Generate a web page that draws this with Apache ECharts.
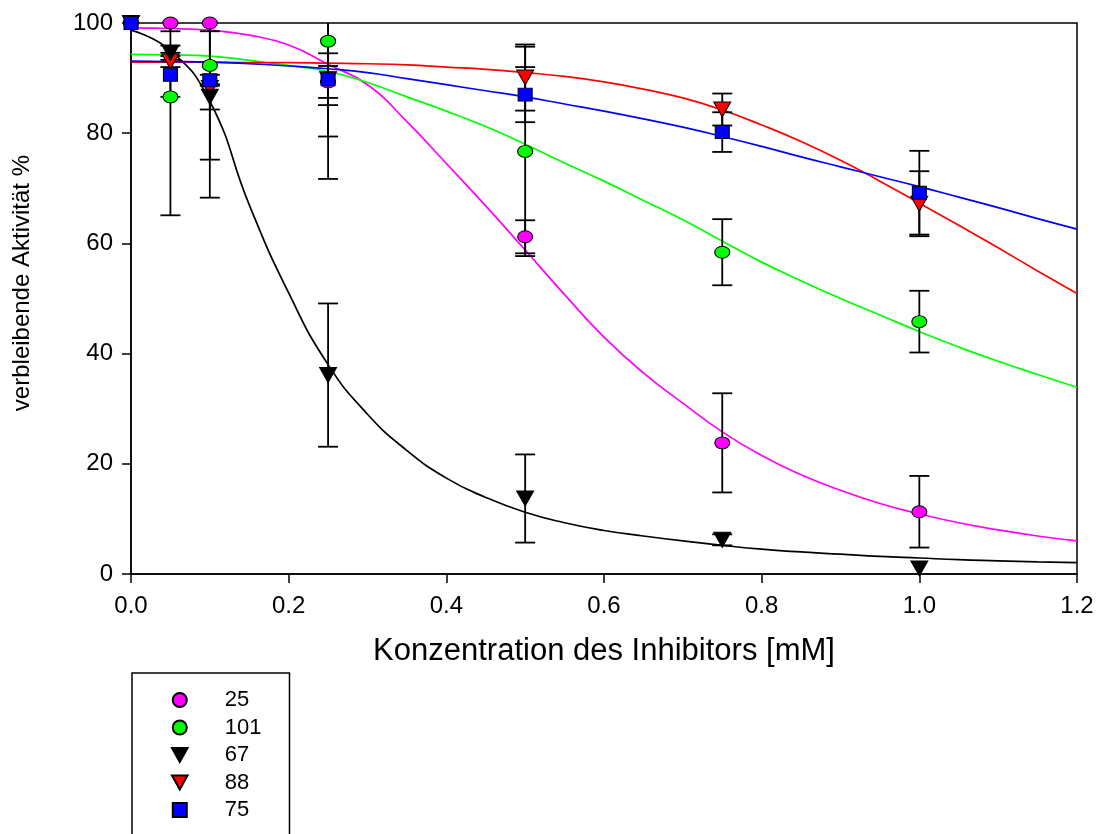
<!DOCTYPE html>
<html>
<head>
<meta charset="utf-8">
<script src="https://cdn.jsdelivr.net/npm/echarts@6/dist/echarts.min.js"></script>
<style>
html,body{margin:0;padding:0;background:#fff;}
#chart{width:1097px;height:834px;}
</style>
</head>
<body>
<div id="chart"></div>
<script>
// ---- data ----
const xTickLabels = ['0.0','0.2','0.4','0.6','0.8','1.0','1.2'];
const yTickLabels = ['0','20','40','60','80','100'];
const seriesNames = ['25','101','67','88','75'];
const seriesColors = ['#ff00ff','#00ff00','#000000','#ff0000','#0000ff'];

// measured concentrations [mM]
const xPoints = [0, 0.05, 0.1, 0.25, 0.5, 0.75, 1.0];
const y25  = [100, 100, 100, 89.3, 61.2, 23.8, 11.3];
const e25  = [0, 1.5, 1.5, 2.9, 3.0, 9.0, 6.5];
const y101 = [100, 86.6, 92.3, 96.7, 76.7, 58.4, 45.8];
const e101 = [0, 21.5, 24.0, 25.0, 19.0, 6.0, 5.6];
const y67  = [100, 94.6, 86.6, 36.1, 13.7, 6.2, 1.0];
const e67  = [0, 1.3, 2.3, 13.0, 8.0, 1.0, 0];
const y88  = [100, 93.0, 88.2, 89.8, 90.1, 84.3, 67.2];
const e88  = [0, 1.0, 13.0, 10.4, 6.0, 2.9, 5.9];
const y75  = [100, 90.6, 89.6, 89.8, 87.0, 80.2, 69.2];
const e75  = [0, 4.0, 1.0, 4.7, 5.0, 3.6, 7.6];

// fitted curves, values (x = 0, 0.05, ... 1.2)
const xCurve = [0, 0.05, 0.1, 0.15, 0.2, 0.25, 0.3, 0.35, 0.4, 0.45, 0.5, 0.55, 0.6,
                0.65, 0.7, 0.75, 0.8, 0.85, 0.9, 0.95, 1.0, 1.05, 1.1, 1.15, 1.2];
const c25  = [99.1, 99.0, 98.7, 97.8, 96.0, 92.5, 88.8, 82.1, 74.5, 66.8, 58.8, 50.7, 43.0,
              36.5, 31.0, 25.8, 21.5, 18.0, 15.2, 12.8, 10.9, 9.3, 8.0, 6.9, 6.0];
const c101 = [94.3, 94.2, 94.0, 93.2, 92.3, 91.2, 89.2, 86.6, 84.0, 81.2, 78.0, 74.6, 71.3,
              67.8, 64.3, 60.4, 56.6, 53.2, 50.0, 47.0, 44.0, 41.2, 38.6, 36.2, 33.9];
const c67  = [98.7, 95.0, 85.8, 67.0, 51.0, 38.0, 29.0, 22.4, 17.4, 13.9, 11.2, 9.3, 7.9,
              6.9, 6.0, 5.2, 4.5, 4.0, 3.6, 3.2, 2.9, 2.6, 2.4, 2.2, 2.05];
const c88  = [92.9, 92.9, 92.9, 92.8, 92.8, 92.7, 92.6, 92.4, 92.0, 91.6, 91.0, 90.3, 89.3,
              88.0, 86.4, 84.2, 81.5, 78.5, 75.1, 71.3, 67.3, 63.3, 59.2, 55.0, 50.9];
const c75  = [93.1, 93.0, 92.9, 92.6, 92.2, 91.7, 91.0, 89.9, 88.8, 87.7, 86.6, 85.3, 84.0,
              82.6, 81.1, 79.4, 77.6, 75.7, 73.9, 72.1, 70.3, 68.4, 66.5, 64.5, 62.6];

const yVals = [y25, y101, y67, y88, y75];
const eVals = [e25, e101, e67, e88, e75];
const cVals = [c25, c101, c67, c88, c75];

// ---- styling ----
const FONT = 'Liberation Sans, Arial, Helvetica, sans-serif';
const ELLIPSE = 'path://M0,50 A50,50 0 1,1 100,50 A50,50 0 1,1 0,50 Z';
const DOWN_TRI = 'path://M0,0 L100,0 L50,90 Z';
const SQUARE = 'path://M0,0 L100,0 L100,100 L0,100 Z';
const symbols = [ELLIPSE, ELLIPSE, DOWN_TRI, DOWN_TRI, SQUARE];
const symSizes = [[15,12],[15,12],[17,15],[17,15],[14,13]];
const markerZ = [4, 5, 7, 6, 8];

const chart = echarts.init(document.getElementById('chart'), null, {renderer:'canvas'});

const series = [];
// fitted curves
seriesNames.forEach((n, i) => {
  series.push({
    name: n + ' fit',
    type: 'line',
    data: xCurve.map((x, k) => [x, cVals[i][k]]),
    showSymbol: false,
    smooth: true,
    lineStyle: {color: seriesColors[i], width: 1.7},
    itemStyle: {color: seriesColors[i]},
    silent: true,
    z: 2
  });
});
// error bars
seriesNames.forEach((n, i) => {
  series.push({
    name: n + ' err',
    type: 'custom',
    clip: true,
    data: xPoints.map((x, k) => [x, yVals[i][k], eVals[i][k]]),
    encode: {x: 0, y: 1},
    renderItem: function (params, api) {
      const x = api.value(0), y = api.value(1), e = api.value(2);
      if (!e) return null;
      const top = api.coord([x, y + e]);
      const bot = api.coord([x, y - e]);
      const hw = 10;
      const st = {stroke: '#000', lineWidth: 1.8};
      return {
        type: 'group',
        children: [
          {type: 'line', shape: {x1: top[0], y1: top[1], x2: bot[0], y2: bot[1]}, style: st},
          {type: 'line', shape: {x1: top[0] - hw, y1: top[1], x2: top[0] + hw, y2: top[1]}, style: st},
          {type: 'line', shape: {x1: bot[0] - hw, y1: bot[1], x2: bot[0] + hw, y2: bot[1]}, style: st}
        ]
      };
    },
    silent: true,
    z: 3
  });
});
// markers
seriesNames.forEach((n, i) => {
  series.push({
    name: n,
    type: 'scatter',
    data: xPoints.map((x, k) => [x, yVals[i][k]]),
    symbol: symbols[i],
    symbolSize: symSizes[i],
    symbolKeepAspect: false,
    itemStyle: {color: seriesColors[i], borderColor: '#000', borderWidth: 1, opacity: 1},
    clip: false,
    z: markerZ[i]
  });
});

const option = {
  backgroundColor: '#ffffff',
  animation: false,
  grid: {
    left: 131, right: 20, top: 23, bottom: 260,
    show: true, borderColor: '#000', borderWidth: 1.5, backgroundColor: 'transparent'
  },
  xAxis: {
    type: 'value', min: 0, max: 1.2, interval: 0.2,
    name: 'Konzentration des Inhibitors [mM]',
    nameLocation: 'middle', nameGap: 62,
    nameTextStyle: {fontFamily: FONT, fontSize: 31, color: '#000'},
    axisLine: {show: true, onZero: false, lineStyle: {color: '#000', width: 1.5}},
    axisTick: {show: true, inside: false, length: 9, lineStyle: {color: '#000', width: 1.5}},
    axisLabel: {
      fontFamily: FONT, fontSize: 24, color: '#000', margin: 20,
      formatter: v => xTickLabels[Math.round(v / 0.2)]
    },
    splitLine: {show: false}
  },
  yAxis: {
    type: 'value', min: 0, max: 100, interval: 20,
    axisLine: {show: true, lineStyle: {color: '#000', width: 1.5}},
    axisTick: {show: true, inside: false, length: 9, lineStyle: {color: '#000', width: 1.5}},
    axisLabel: {
      fontFamily: FONT, fontSize: 24, color: '#000', margin: 18,
      formatter: v => yTickLabels[Math.round(v / 20)]
    },
    splitLine: {show: false}
  },
  legend: {
    show: true,
    data: seriesNames,
    orient: 'vertical',
    left: 132, top: 673,
    height: 260,
    padding: [16, 28, 60, 39],
    itemGap: 5.5,
    itemWidth: 16, itemHeight: 14,
    borderColor: '#000', borderWidth: 1.5,
    backgroundColor: '#fff',
    selectedMode: false,
    textStyle: {fontFamily: FONT, fontSize: 22, color: '#000', lineHeight: 22, padding: [0, 0, 0, 32]}
  },
  graphic: [{
    type: 'text',
    left: 10, top: 155,
    rotation: Math.PI / 2,
    style: {text: 'verbleibende Aktivität %', fontFamily: FONT, fontSize: 24, fill: '#000'}
  }],
  series: series
};
chart.setOption(option);
</script>
</body>
</html>
